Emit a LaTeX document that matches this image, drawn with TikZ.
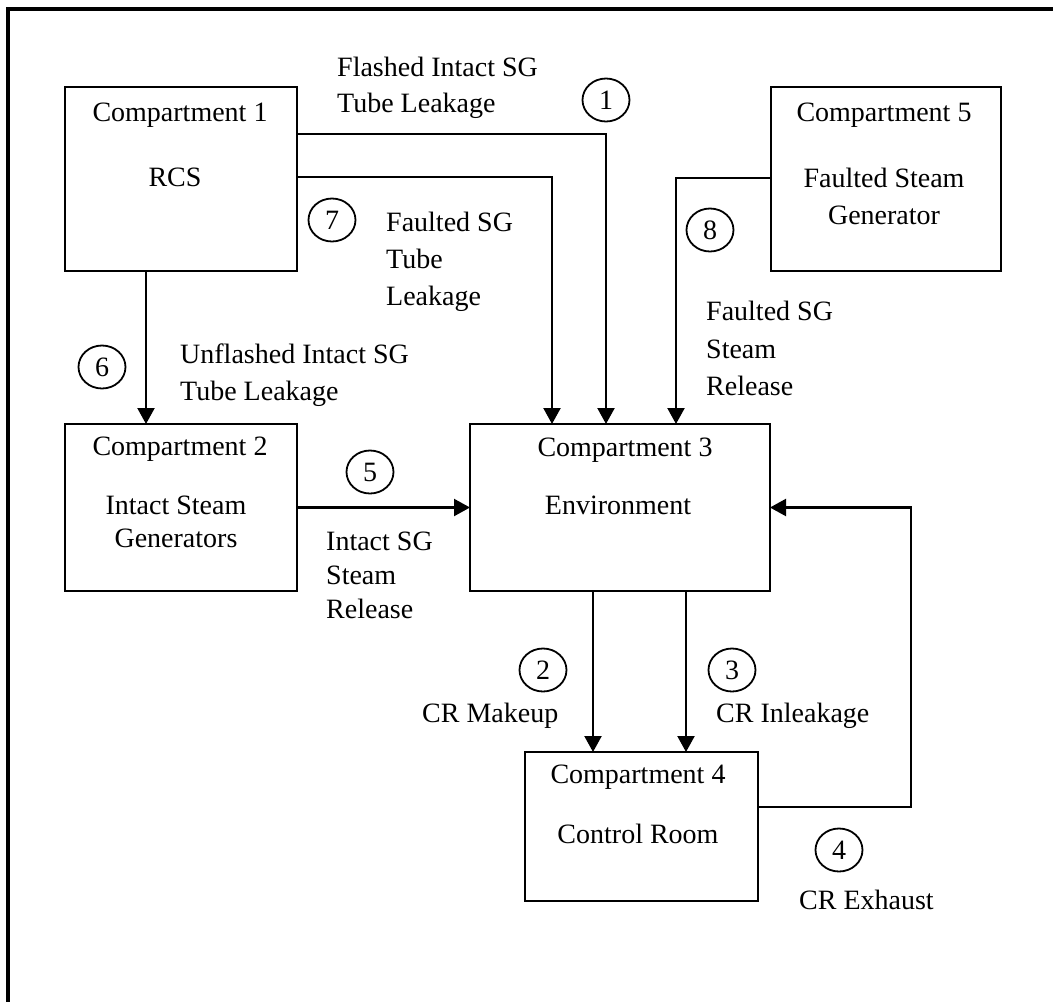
\documentclass[tikz,border=0pt]{standalone}
\usepackage{fontspec}
\setmainfont{Liberation Serif}
\usetikzlibrary{arrows.meta}

\tikzset{
	box/.style={draw, line width=2pt, inner sep=0pt, outer sep=0pt},
	num/.style={draw, ellipse, line width=1.8pt, minimum width=47pt, minimum height=43pt, inner sep=0pt, font=\fontsize{28}{34}\selectfont},
	lbl/.style={inner sep=0pt, align=left, anchor=north west, font=\fontsize{28}{37}\selectfont},
	boxtxt/.style={inner sep=0pt, align=center, anchor=north, font=\fontsize{28}{37}\selectfont},
	flow/.style={line width=2.2pt, -{Triangle[length=16pt,width=17pt]}}
}
\usetikzlibrary{shapes.geometric}

\begin{document}
\begin{tikzpicture}[x=1pt, y=-1pt]
	
	\useasboundingbox (0,0) rectangle (1053,1002);
	\draw[line width=3.5pt] (8,1002) -- (8,9) -- (1053,9);
	
	\node[box, minimum width=232pt, minimum height=184pt] (c1) at (181,179) {};
	\node[box, minimum width=230pt, minimum height=184pt] (c5) at (886,179) {};
	\node[box, minimum width=232pt, minimum height=167pt] (c2) at (181,507.5) {};
	\node[box, minimum width=300pt, minimum height=167pt] (c3) at (620,507.5) {};
	\node[box, minimum width=233pt, minimum height=149pt] (c4) at (641.5,826.5) {};
	
	\node[boxtxt] (c1head) at (180,103) {Compartment 1};
	\node[boxtxt] (c1name) at (175,168) {RCS};
	\node[boxtxt] (c5head) at (884,103) {Compartment 5};
	\node[boxtxt] (c5name) at (884,168) {Faulted Steam\\Generator};
	\node[boxtxt] (c2head) at (180,437) {Compartment 2};
	\node[boxtxt, font=\fontsize{28}{33}\selectfont] (c2name) at (176,496) {Intact Steam\\Generators};
	\node[boxtxt] (c3head) at (625,438) {Compartment 3};
	\node[boxtxt] (c3name) at (618,496) {Environment};
	\node[boxtxt] (c4head) at (638,765) {Compartment 4};
	\node[boxtxt] (c4name) at (638,824) {Control Room};
	
	\draw[flow] ([yshift=45pt]c1.east) -| ([xshift=-14pt]c3.north);
	\draw[flow] ([yshift=2pt]c1.east) -| ([xshift=-68pt]c3.north);
	\draw[flow] ([yshift=1pt]c5.west) -| ([xshift=56pt]c3.north);
	\draw[flow] ([xshift=-35pt]c1.south) -- ([xshift=-35pt]c2.north);
	\draw[flow] (c2.east) -- (c3.west);
	\draw[flow] ([xshift=-27pt]c3.south) -- ([xshift=-27pt]c3.south |- c4.north);
	\draw[flow] ([xshift=66pt]c3.south) -- ([xshift=66pt]c3.south |- c4.north);
	\draw[flow] ([yshift=19.5pt]c4.east) -| ([xshift=141pt]c3.east) -- (c3.east);
	
	\node[num] (n1) at (606,100) {1};
	\node[num] (n2) at (543,670) {2};
	\node[num] (n3) at (732,670) {3};
	\node[num] (n4) at (839,850) {4};
	\node[num] (n5) at (370,472) {5};
	\node[num] (n6) at (102,367) {6};
	\node[num] (n7) at (332,220) {7};
	\node[num] (n8) at (710,230) {8};
	
	\node[lbl, font=\fontsize{28}{36}\selectfont] (flashed) at (337,57) {Flashed Intact SG\\Tube Leakage};
	\node[lbl] (faultedtube) at (386,212) {Faulted SG\\Tube\\Leakage};
	\node[lbl] (unflashed) at (180,344) {Unflashed Intact SG\\Tube Leakage};
	\node[lbl, font=\fontsize{28}{37.5}\selectfont] (faultedrel) at (706,301) {Faulted SG\\Steam\\Release};
	\node[lbl, font=\fontsize{28}{34}\selectfont] (intactrel) at (326,532) {Intact SG\\Steam\\Release};
	\node[inner sep=0pt, anchor=base west, font=\fontsize{28}{34}\selectfont] (makeup) at (422,722) {CR Makeup};
	\node[inner sep=0pt, anchor=base west, font=\fontsize{28}{34}\selectfont] (inleak) at (716,722) {CR Inleakage};
	\node[inner sep=0pt, anchor=base west, font=\fontsize{28}{34}\selectfont] (exhaust) at (799,909) {CR Exhaust};
	
\end{tikzpicture}
\end{document}
